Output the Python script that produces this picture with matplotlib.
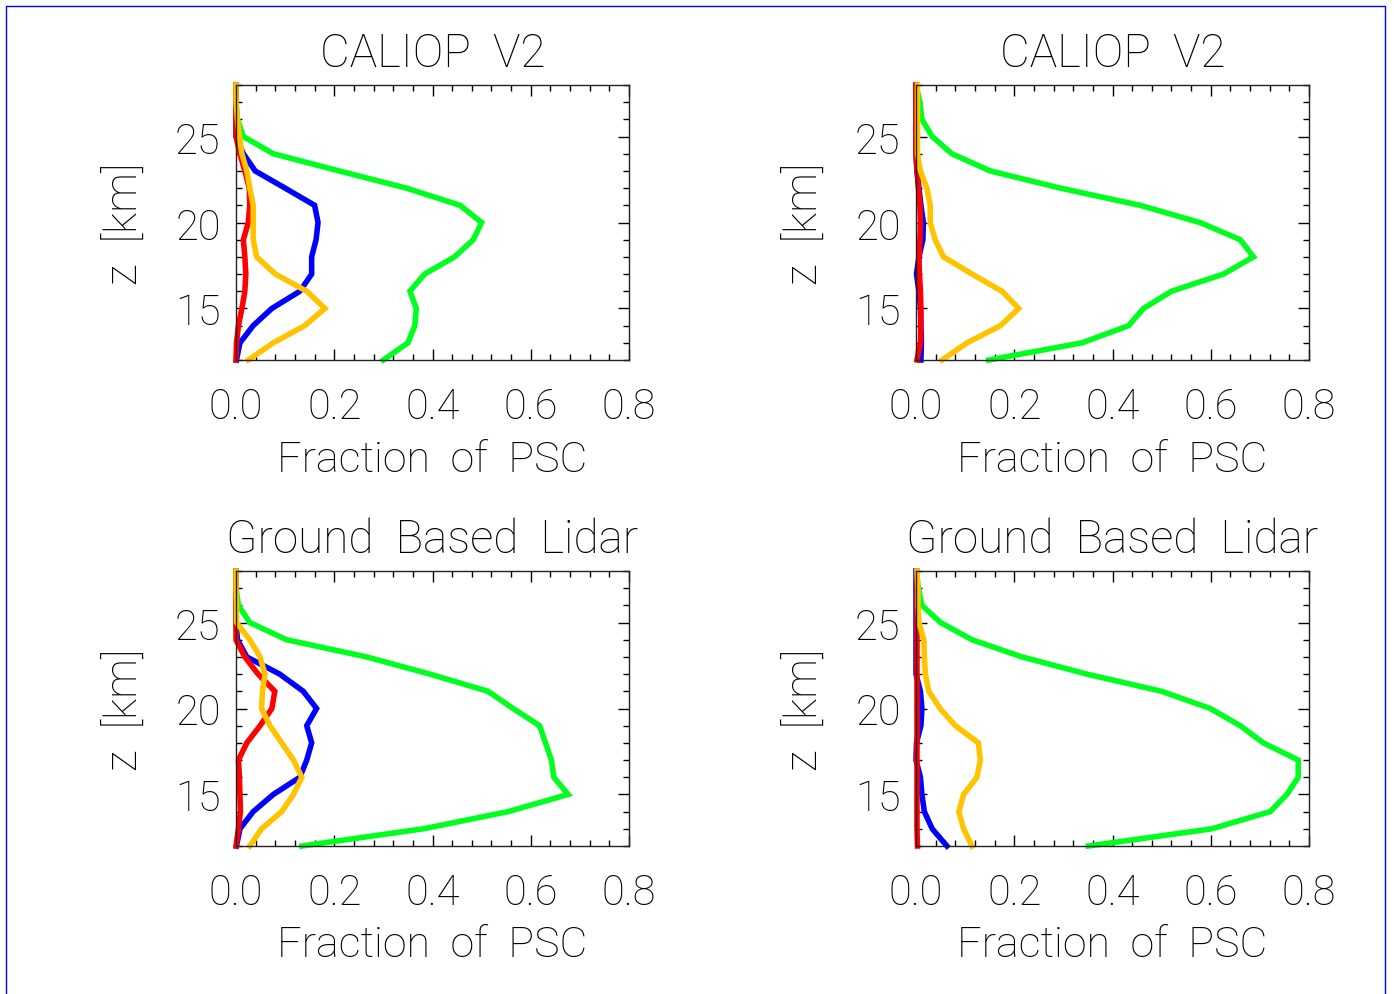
import matplotlib
matplotlib.use("Agg")
import matplotlib.pyplot as plt
from matplotlib.patches import Rectangle
from matplotlib.ticker import MultipleLocator

# altitude levels (km), top to bottom
z = [28, 27, 26, 25, 24, 23, 22, 21, 20, 19, 18, 17, 16, 15, 14, 13, 12]

# panel 1: CALIOP V2 (left)
p1_green = [0.0, 0.0, 0.003, 0.015, 0.076, 0.21, 0.347, 0.456, 0.50, 0.483, 0.445, 0.384, 0.354, 0.367, 0.364, 0.35, 0.30]
p1_blue = [0.0, 0.0, 0.0, 0.0, 0.015, 0.039, 0.10, 0.16, 0.167, 0.163, 0.154, 0.154, 0.13, 0.073, 0.035, 0.008, 0.001]
p1_red = [0.0, 0.0, 0.0, 0.0, 0.008, 0.018, 0.027, 0.028, 0.025, 0.015, 0.018, 0.02, 0.018, 0.012, 0.005, 0.001, 0.0]
p1_orange = [0.0, 0.0, 0.003, 0.007, 0.012, 0.022, 0.028, 0.035, 0.035, 0.035, 0.042, 0.08, 0.144, 0.181, 0.14, 0.076, 0.025]

# panel 2: CALIOP V2 (right)
p2_green = [0.0, 0.008, 0.012, 0.033, 0.073, 0.151, 0.294, 0.456, 0.578, 0.66, 0.687, 0.626, 0.52, 0.463, 0.433, 0.338, 0.148]
p2_blue = [0.0, 0.0, 0.0, 0.0, 0.0, 0.002, 0.006, 0.01, 0.015, 0.014, 0.006, 0.001, 0.006, 0.009, 0.01, 0.011, 0.01]
p2_red = [0.0, 0.0, 0.0, 0.0, 0.0, 0.002, 0.005, 0.008, 0.009, 0.008, 0.006, 0.007, 0.009, 0.01, 0.01, 0.009, 0.002]
p2_orange = [0.003, 0.003, 0.003, 0.003, 0.003, 0.009, 0.022, 0.029, 0.029, 0.039, 0.056, 0.114, 0.175, 0.209, 0.172, 0.104, 0.053]

# panel 3: Ground Based Lidar (left)
p3_green = [0.0, 0.0, 0.005, 0.028, 0.103, 0.266, 0.395, 0.513, 0.564, 0.618, 0.63, 0.642, 0.647, 0.676, 0.554, 0.381, 0.134]
p3_blue = [0.0, 0.0, 0.0, 0.0, 0.003, 0.022, 0.089, 0.137, 0.164, 0.144, 0.154, 0.144, 0.13, 0.076, 0.035, 0.008, 0.001]
p3_red = [0.0, 0.0, 0.0, 0.0, 0.0, 0.018, 0.045, 0.079, 0.073, 0.049, 0.022, 0.005, 0.007, 0.008, 0.009, 0.005, 0.0]
p3_orange = [0.0, 0.0, 0.001, 0.001, 0.028, 0.049, 0.059, 0.054, 0.052, 0.069, 0.093, 0.117, 0.134, 0.117, 0.093, 0.052, 0.028]

# panel 4: Ground Based Lidar (right)
p4_green = [0.0, 0.005, 0.012, 0.05, 0.114, 0.216, 0.348, 0.50, 0.599, 0.66, 0.707, 0.778, 0.778, 0.755, 0.721, 0.602, 0.351]
p4_blue = [0.0, 0.0, 0.0, 0.0, 0.0, 0.0, 0.0, 0.009, 0.012, 0.01, 0.001, 0.0, 0.009, 0.012, 0.017, 0.033, 0.063]
p4_red = [0.002, 0.002, 0.002, 0.002, 0.002, 0.002, 0.002, 0.002, 0.002, 0.002, 0.002, 0.002, 0.002, 0.002, 0.002, 0.002, 0.003]
p4_orange = [0.002, 0.004, 0.004, 0.006, 0.016, 0.017, 0.019, 0.026, 0.049, 0.08, 0.127, 0.131, 0.124, 0.097, 0.087, 0.097, 0.114]

titles = ["CALIOP  V2", "CALIOP  V2", "Ground  Based  Lidar", "Ground  Based  Lidar"]
panels = [
    (p1_green, p1_blue, p1_red, p1_orange),
    (p2_green, p2_blue, p2_red, p2_orange),
    (p3_green, p3_blue, p3_red, p3_orange),
    (p4_green, p4_blue, p4_red, p4_orange),
]
colors = ["#00ff1e", "#0000ff", "#ff0000", "#ffc300"]

plt.rcParams['font.family'] = ['Roboto', 'DejaVu Sans']
plt.rcParams['font.weight'] = 'light'

W, H = 1394, 995
fig = plt.figure(figsize=(W / 100, H / 100), dpi=100)

# panel boxes in pixels: left, top
boxes = [(236, 86), (916, 86), (236, 572), (916, 572)]
pw, ph = 393, 275

for (left, top), title, series in zip(boxes, titles, panels):
    ax = fig.add_axes([left / W, 1 - (top + ph) / H, pw / W, ph / H])
    for vals, c in zip(series, colors):
        ax.plot(vals, z, color=c, lw=4.0, clip_on=False, solid_joinstyle='miter')
    ax.set_xlim(0, 0.8)
    ax.set_ylim(12, 28)
    ax.xaxis.set_major_locator(MultipleLocator(0.2))
    ax.xaxis.set_minor_locator(MultipleLocator(0.04))
    ax.yaxis.set_major_locator(MultipleLocator(5))
    ax.yaxis.set_minor_locator(MultipleLocator(1))
    ax.tick_params(which='both', direction='in', top=True, right=True, width=1, labelsize=30)
    ax.tick_params(which='major', length=8)
    ax.tick_params(which='minor', length=4)
    ax.tick_params(axis='x', pad=19)
    ax.tick_params(axis='y', pad=11)
    ax.set_xticklabels(["%.1f" % v for v in ax.get_xticks()])
    for s in ax.spines.values():
        s.set_linewidth(1)
        s.set_color('#222222')
    ax.set_title(title, fontsize=33, pad=14, fontweight='light')
    ax.set_xlabel("Fraction  of  PSC", fontsize=31, labelpad=8, fontweight='light')
    ax.set_ylabel("z  [km]", fontsize=32, labelpad=20, fontweight='light')

fig.patches.append(Rectangle((6 / W, -0.01), (1385 - 6) / W, 1 - 7 / H + 0.01,
                             transform=fig.transFigure, fill=False,
                             edgecolor='#0000ff', lw=1))

fig.savefig("out.png", dpi=100)
